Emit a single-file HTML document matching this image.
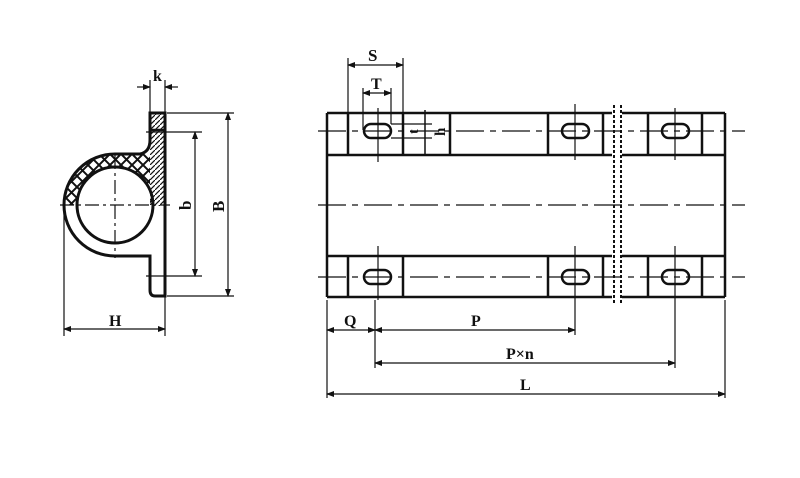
<!DOCTYPE html>
<html><head><meta charset="utf-8"><style>
html,body{margin:0;padding:0;background:#fff;}
svg{display:block;}
text{font-family:"Liberation Serif",serif;font-weight:bold;fill:#111;}
</style></head><body>
<svg width="800" height="478" viewBox="0 0 800 478" xmlns="http://www.w3.org/2000/svg">
<defs>
<pattern id="xh" width="11" height="11" patternUnits="userSpaceOnUse">
<path d="M0 0L11 11M11 0L0 11" stroke="#111" stroke-width="2"/>
</pattern>
<pattern id="dh" width="5" height="5" patternUnits="userSpaceOnUse">
<path d="M0 5L5 0" stroke="#111" stroke-width="1.2"/>
</pattern>
<marker id="a" markerWidth="8" markerHeight="6" refX="7" refY="3" orient="auto-start-reverse" markerUnits="userSpaceOnUse">
<path d="M0 0L8 3L0 6z" fill="#111"/>
</marker>
</defs>
<g stroke="#111" fill="none">
<path d="M64 205 A51 51 0 0 1 115 154 L150 154 L150 205 L153 205 A38 38 0 0 0 77 205 Z" fill="url(#xh)" stroke="none"/>
<rect x="150" y="130" width="15" height="76" fill="url(#dh)" stroke="none"/>
<rect x="150" y="113" width="15" height="17" fill="url(#dh)" stroke-width="2.5"/>
<path d="M64 205 A51 51 0 0 1 115 154 L140 154 Q150 152 150 140 L150 113 L165 113 L165 296 L155 296 Q150 296 150 290 L150 256 L115 256 A51 51 0 0 1 64 205 Z" stroke-width="3"/>
<circle cx="115" cy="205" r="38" stroke-width="3"/>
<line x1="60" y1="205" x2="170" y2="205" stroke-width="1.2" stroke-dasharray="14 4 3 4"/>
<line x1="115" y1="155" x2="115" y2="258" stroke-width="1.2" stroke-dasharray="14 4 3 4"/>
<line x1="150" y1="80" x2="150" y2="113" stroke-width="1.2"/>
<line x1="165" y1="80" x2="165" y2="113" stroke-width="1.2"/>
<line x1="137" y1="87" x2="150" y2="87" stroke-width="1.2" marker-end="url(#a)"/>
<line x1="178" y1="87" x2="165" y2="87" stroke-width="1.2" marker-end="url(#a)"/>
<line x1="167" y1="113" x2="234" y2="113" stroke-width="1.2"/>
<line x1="167" y1="296" x2="234" y2="296" stroke-width="1.2"/>
<line x1="228" y1="113" x2="228" y2="296" stroke-width="1.2" marker-start="url(#a)" marker-end="url(#a)"/>
<line x1="146" y1="132" x2="202" y2="132" stroke-width="1.2"/>
<line x1="146" y1="276" x2="202" y2="276" stroke-width="1.2"/>
<line x1="195" y1="132" x2="195" y2="276" stroke-width="1.2" marker-start="url(#a)" marker-end="url(#a)"/>
<line x1="64" y1="205" x2="64" y2="336" stroke-width="1.2"/>
<line x1="165" y1="296" x2="165" y2="336" stroke-width="1.2"/>
<line x1="64" y1="329" x2="165" y2="329" stroke-width="1.2" marker-start="url(#a)" marker-end="url(#a)"/>

<g stroke-width="2.5">
<line x1="327" y1="113" x2="612" y2="113"/><line x1="622" y1="113" x2="725" y2="113"/>
<line x1="327" y1="155" x2="612" y2="155"/><line x1="622" y1="155" x2="725" y2="155"/>
<line x1="327" y1="256" x2="612" y2="256"/><line x1="622" y1="256" x2="725" y2="256"/>
<line x1="327" y1="297" x2="612" y2="297"/><line x1="622" y1="297" x2="725" y2="297"/>
<line x1="327" y1="113" x2="327" y2="297"/>
<line x1="725" y1="113" x2="725" y2="297"/>
<line x1="348" y1="113" x2="348" y2="155"/><line x1="403" y1="113" x2="403" y2="155"/>
<line x1="450" y1="113" x2="450" y2="155"/>
<line x1="548" y1="113" x2="548" y2="155"/><line x1="603" y1="113" x2="603" y2="155"/>
<line x1="648" y1="113" x2="648" y2="155"/><line x1="702" y1="113" x2="702" y2="155"/>
<line x1="348" y1="256" x2="348" y2="297"/><line x1="403" y1="256" x2="403" y2="297"/>
<line x1="548" y1="256" x2="548" y2="297"/><line x1="603" y1="256" x2="603" y2="297"/>
<line x1="648" y1="256" x2="648" y2="297"/><line x1="702" y1="256" x2="702" y2="297"/>
</g>
<line x1="425" y1="110" x2="425" y2="155" stroke-width="1.5"/>
<line x1="614" y1="105" x2="614" y2="305" stroke-width="2" stroke-dasharray="3 2"/>
<line x1="621" y1="105" x2="621" y2="305" stroke-width="2" stroke-dasharray="3 2"/>
<g stroke-width="2.5">
<rect x="364" y="124" width="27" height="14" rx="7"/>
<rect x="562" y="124" width="27" height="14" rx="7"/>
<rect x="662" y="124" width="27" height="14" rx="7"/>
<rect x="364" y="270" width="27" height="14" rx="7"/>
<rect x="562" y="270" width="27" height="14" rx="7"/>
<rect x="662" y="270" width="27" height="14" rx="7"/>
</g>
<g stroke-width="1.2" stroke-dasharray="28 6 6 6">
<line x1="318" y1="131" x2="745" y2="131"/>
<line x1="318" y1="277" x2="745" y2="277"/>
<line x1="318" y1="205" x2="745" y2="205"/>
</g>
<g stroke-width="1.2">
<line x1="378" y1="108" x2="378" y2="162"/><line x1="575" y1="104" x2="575" y2="160"/><line x1="675" y1="108" x2="675" y2="160"/>
<line x1="378" y1="246" x2="378" y2="300"/><line x1="575" y1="246" x2="575" y2="300"/><line x1="675" y1="246" x2="675" y2="300"/>
<line x1="348" y1="58" x2="348" y2="113"/><line x1="403" y1="58" x2="403" y2="113"/>
<line x1="348" y1="65" x2="403" y2="65" marker-start="url(#a)" marker-end="url(#a)"/>
<line x1="363" y1="88" x2="363" y2="130"/><line x1="391" y1="88" x2="391" y2="124"/>
<line x1="363" y1="93" x2="391" y2="93" marker-start="url(#a)" marker-end="url(#a)"/>
<line x1="391" y1="124" x2="432" y2="124"/><line x1="391" y1="138" x2="432" y2="138"/>
<line x1="327" y1="300" x2="327" y2="398"/>
<line x1="375" y1="300" x2="375" y2="368"/>
<line x1="575" y1="300" x2="575" y2="335"/>
<line x1="675" y1="300" x2="675" y2="368"/>
<line x1="725" y1="300" x2="725" y2="398"/>
<line x1="327" y1="330" x2="375" y2="330" marker-start="url(#a)" marker-end="url(#a)"/>
<line x1="375" y1="330" x2="575" y2="330" marker-start="url(#a)" marker-end="url(#a)"/>
<line x1="375" y1="363" x2="675" y2="363" marker-start="url(#a)" marker-end="url(#a)"/>
<line x1="327" y1="394" x2="725" y2="394" marker-start="url(#a)" marker-end="url(#a)"/>
</g>
</g>
<text x="153" y="81" font-size="16">k</text>
<text x="0" y="0" font-size="17" transform="translate(224,212) rotate(-90)">B</text>
<text x="0" y="0" font-size="17" transform="translate(191,210) rotate(-90)">b</text>
<text x="109" y="326" font-size="16">H</text>
<text x="368" y="61" font-size="17">S</text>
<text x="371" y="89" font-size="16">T</text>
<text x="0" y="0" font-size="14" transform="translate(418,134) rotate(-90)">t</text>
<text x="0" y="0" font-size="15" transform="translate(445,136) rotate(-90)">h</text>
<text x="344" y="326" font-size="16">Q</text>
<text x="471" y="326" font-size="16">P</text>
<text x="506" y="359" font-size="16">P×n</text>
<text x="520" y="390" font-size="16">L</text>
</svg>
</body></html>
